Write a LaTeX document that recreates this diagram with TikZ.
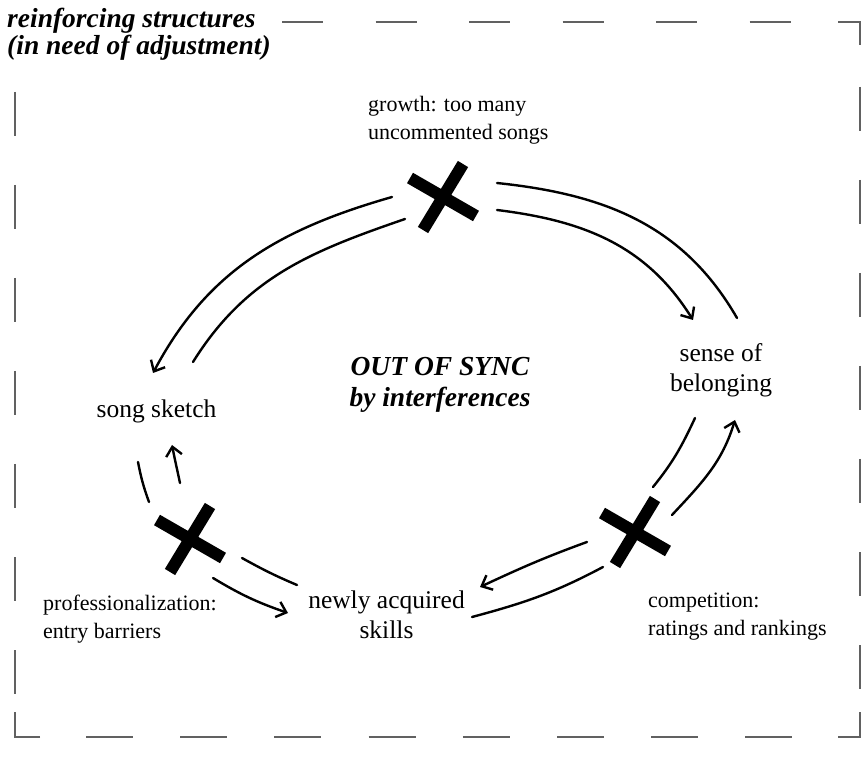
\documentclass[tikz,border=0pt]{standalone}
\usepackage{fontspec}
\setmainfont{Liberation Serif}
\usetikzlibrary{arrows.meta}
\begin{document}
\begin{tikzpicture}[x=1pt,y=-1pt,
  frame/.style={draw=black!62, line width=2pt},
  flow/.style={draw=black, line width=2.4pt, line cap=round},
  flowarrow/.style={flow, -{Straight Barb[length=9pt,width=16pt]}},
  lbl/.style={inner sep=0pt, font=\fontsize{22}{28}\selectfont, align=left, anchor=base west},
  var/.style={inner sep=0pt, font=\fontsize{25.5}{30}\selectfont, align=center, anchor=base},
  ttl/.style={inner sep=0pt, font=\fontsize{27.5}{27}\selectfont\bfseries\itshape, align=left, anchor=base west},
  xmark/.pic={\draw[line width=12pt] (-33,-19)--(33,19) (20,-33)--(-20,33);}
]
\useasboundingbox (0,0) rectangle (863,759);
\fill[white] (0,0) rectangle (863,759);

% dashed frame
\draw[frame] (838,22) -- (860,22) -- (860,45);
\foreach \k in {0,...,5} \draw[frame] ({282+93.5*\k},22) -- ({323+93.5*\k},22);
\foreach \k in {0,...,6} \draw[frame] (860,{87+93*\k}) -- (860,{131+93*\k});
\draw[frame] (860,712) -- (860,737) -- (838,737);
\foreach \k in {0,...,7} \draw[frame] ({86+94.2*\k},737) -- ({133+94.2*\k},737);
\draw[frame] (40,737) -- (15,737) -- (15,712);
\foreach \k in {0,...,6} \draw[frame] (15,{92+93*\k}) -- (15,{136+93*\k});

% texts (anchored at the baseline of the last line)
\node[ttl] (title) at (7,55) {reinforcing structures\\(in need of adjustment)};
\node[lbl] (growth) at (368,140) {growth: too many\\uncommented songs};
\node[lbl] (prof) at (43,638) {professionalization:\\entry barriers};
\node[lbl] (comp) at (648,635) {competition:\\ratings and rankings};
\node[var] (song) at (156.5,418) {song sketch};
\node[var] (sense) at (721,392) {sense of\\belonging};
\node[var] (skills) at (386.5,638) {newly acquired\\skills};
\node[var, font=\fontsize{27.5}{31}\selectfont\bfseries\itshape] (sync) at (440,407) {OUT OF SYNC\\by interferences};

% interference marks
\pic (xtop) at (443,197) {xmark};
\pic (xleft) at (190,539) {xmark};
\pic (xright) at (635,532) {xmark};

% arc end points
\coordinate (tlo1) at (392,197); \coordinate (tlo2) at (153,373);
\coordinate (tli1) at (405,219); \coordinate (tli2) at (193,362);
\coordinate (tro1) at (497,183); \coordinate (tro2) at (737,318);
\coordinate (tri1) at (497,210); \coordinate (tri2) at (693,320);
\coordinate (rl1) at (695,418); \coordinate (rl2) at (653,487);
\coordinate (rr1) at (672,515); \coordinate (rr2) at (735,420);
\coordinate (bru1) at (587,542); \coordinate (bru2) at (480,587);
\coordinate (brl1) at (603,567); \coordinate (brl2) at (472,617);
\coordinate (lo1) at (138,462); \coordinate (lo2) at (149,502);
\coordinate (li1) at (180,483); \coordinate (li2) at (172,445);
\coordinate (blu1) at (242,558); \coordinate (blu2) at (297,585);
\coordinate (bll1) at (213,578); \coordinate (bll2) at (288,613);

% arcs
\draw[flowarrow] (tlo1) to[out=196,in=62] (tlo2);
\draw[flow] (tli1) to[out=199,in=58] (tli2);
\draw[flow] (tro1) to[out=354,in=120] (tro2);
\draw[flowarrow] (tri1) to[out=353,in=122] (tri2);
\draw[flow] (rl1) to[out=245,in=51] (rl2);
\draw[flowarrow] (rr1) to[out=47,in=253] (rr2);
\draw[flowarrow] (bru1) to[out=200,in=25] (bru2);
\draw[flow] (brl1) to[out=208,in=15] (brl2);
\draw[flow] (lo1) to[out=281,in=110] (lo2);
\draw[flowarrow] (li1) to[out=102,in=281] (li2);
\draw[flow] (blu1) to[out=331,in=157] (blu2);
\draw[flowarrow] (bll1) to[out=329,in=161] (bll2);
\end{tikzpicture}
\end{document}
